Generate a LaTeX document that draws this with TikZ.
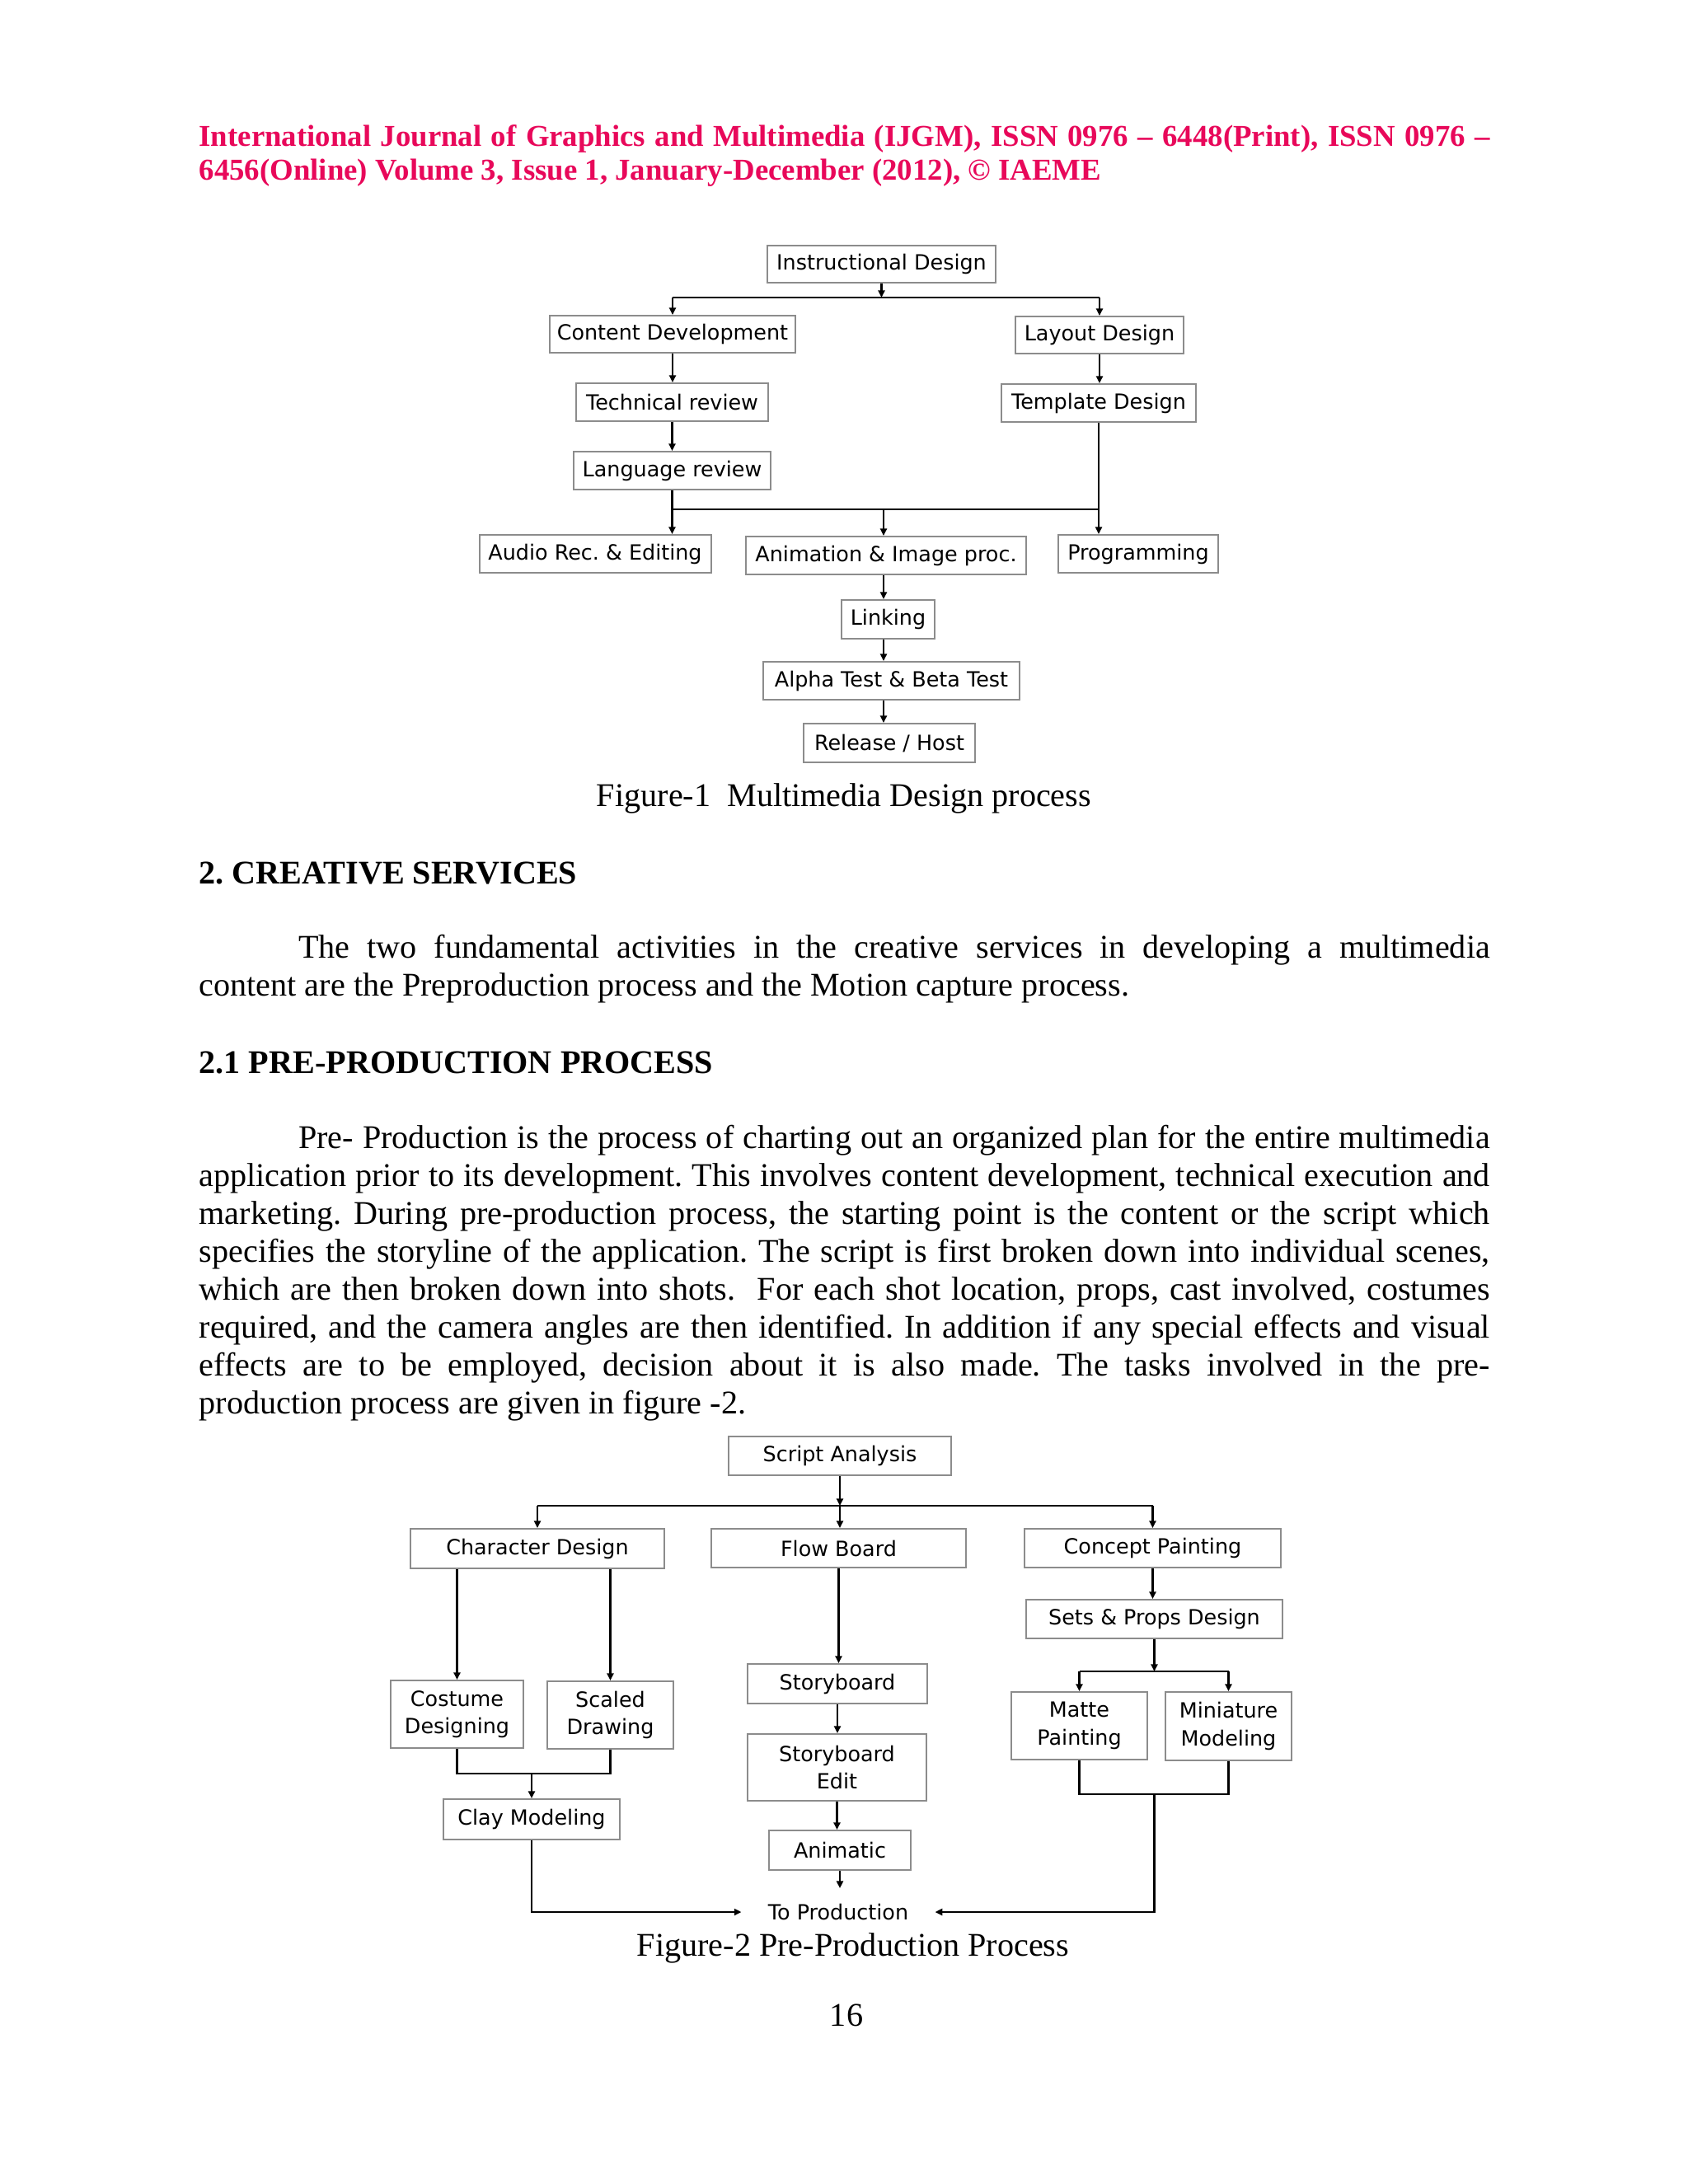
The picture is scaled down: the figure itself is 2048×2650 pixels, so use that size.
\documentclass[tikz,border=0pt]{standalone}
\usepackage{fontspec}
\setmainfont{Liberation Serif}
\newfontfamily\boxfam{DejaVu Sans}
\usetikzlibrary{arrows.meta}

\definecolor{ijgmred}{RGB}{232,8,90}
\definecolor{boxgrey}{RGB}{140,140,140}
\newcommand\boxfont{\boxfam\fontsize{7.6}{10}\selectfont}
\newcommand\bodyline[1]{\hbox to 468pt{#1}}

\tikzset{
  box/.style 2 args={draw=boxgrey, line width=0.6pt, fill=white,
    minimum width=#1*0.29883pt, minimum height=#2*0.29883pt,
    inner sep=0pt, align=center, font=\boxfont},
  arr/.style={-{Triangle[length=2.6pt,width=2.4pt]}},
  link/.style={line width=0.65pt, black},
  body/.style={anchor=base west, inner sep=0pt, font=\fontsize{12}{13.75}\selectfont},
  head/.style={anchor=base west, inner sep=0pt, font=\bfseries\fontsize{12}{13.75}\selectfont},
}

\begin{document}
\frenchspacing
\begin{tikzpicture}[x=0.29883pt, y=-0.29883pt]
  \useasboundingbox[fill=white] (0,0) rectangle (2048,2650);

  % journal header
  \node[head, text=ijgmred, font=\bfseries\fontsize{11}{12.65}\selectfont] (hdra) at (241,177)
    {\bodyline{International Journal of Graphics and Multimedia (IJGM), ISSN 0976 -- 6448(Print), ISSN 0976 --}};
  \node[head, text=ijgmred, font=\bfseries\fontsize{11}{12.65}\selectfont] (hdrb) at (241,218)
    {6456(Online) Volume 3, Issue 1, January-December (2012), © IAEME};

  % figure 1
  \node[box={277}{45}] (instr) at (1069.5,320.5) {Instructional Design};
  \node[box={298}{45}] (content) at (816,405.5) {Content Development};
  \node[box={204}{45}] (layout) at (1334,406.5) {Layout Design};
  \node[box={233}{46}] (techrev) at (815.5,488) {Technical review};
  \node[box={236}{46}] (template) at (1333,489) {Template Design};
  \node[box={239}{46}] (langrev) at (815.5,571) {Language review};
  \node[box={281}{46}] (audio) at (722,672) {Audio Rec. \& Editing};
  \node[box={340}{46}] (anim) at (1075,674) {Animation \& Image proc.};
  \node[box={194}{46}] (prog) at (1381,672) {Programming};
  \node[box={113}{47}] (linking) at (1077.5,751.5) {Linking};
  \node[box={311}{46}] (alpha) at (1081.5,826) {Alpha Test \& Beta Test};
  \node[box={208}{47}] (release) at (1079,901.5) {Release / Host};

  \coordinate (barA) at (0,361);
  \coordinate (barB) at (0,618);
  \coordinate (spine) at (1072,0);

  \draw[link, arr] (instr.south) -- (instr.south |- barA);
  \draw[link] (content.north |- barA) -- (layout.north |- barA);
  \draw[link, arr] (content.north |- barA) -- (content.north);
  \draw[link, arr] (layout.north |- barA) -- (layout.north);
  \draw[link, arr] (content.south) -- (content.south |- techrev.north);
  \draw[link, arr] (techrev.south) -- (techrev.south |- langrev.north);
  \draw[link, arr] (layout.south) -- (layout.south |- template.north);
  \draw[link] (langrev.south) -- (langrev.south |- barB) -- (template.south |- barB) -- (template.south);
  \draw[link, arr] (langrev.south |- barB) -- (langrev.south |- audio.north);
  \draw[link, arr] (spine |- barB) -- (anim.north -| spine);
  \draw[link, arr] (template.south |- barB) -- (template.south |- prog.north);
  \draw[link, arr] (anim.south -| spine) -- (linking.north -| spine);
  \draw[link, arr] (linking.south -| spine) -- (alpha.north -| spine);
  \draw[link, arr] (alpha.south -| spine) -- (release.north -| spine);

  \node[anchor=base, inner sep=0pt, font=\fontsize{12}{13.75}\selectfont] (capA) at (1024,978)
    {Figure-1\ \ Multimedia Design process};

  % section text
  \node[head] (secA) at (241,1072) {2. CREATIVE SERVICES};
  \node[body] (paraA1) at (241,1162)
    {\bodyline{\hskip36pt The two fundamental activities in the creative services in developing a multimedia}};
  \node[body] (paraA2) at (241,1208)
    {content are the Preproduction process and the Motion capture process.};

  \node[head] (secB) at (241,1302) {2.1 PRE-PRODUCTION PROCESS};
  \foreach [count=\n] \ln in {
      {\hskip36pt Pre- Production is the process of charting out an organized plan for the entire multimedia},
      {application prior to its development. This involves content development, technical execution and},
      {marketing. During pre-production process, the starting point is the content or the script which},
      {specifies the storyline of the application. The script is first broken down into individual scenes,},
      {which are then broken down into shots.\ \ For each shot location, props, cast involved, costumes},
      {required, and the camera angles are then identified. In addition if any special effects and visual},
      {effects are to be employed, decision about it is also made. The tasks involved in the pre-}} {
    \node[body] (paraB\n) at (241,1393+46*\n-46) {\bodyline{\ln}};
  }
  \node[body] (paraB8) at (241,1715) {production process are given in figure -2.};

  % figure 2
  \node[box={270}{47}] (script) at (1019,1766.5) {Script Analysis};
  \node[box={308}{48}] (chardes) at (652,1879) {Character Design};
  \node[box={309}{47}] (flow) at (1017.5,1878.5) {Flow Board};
  \node[box={311}{47}] (concept) at (1398.5,1878.5) {Concept Painting};
  \node[box={311}{47}] (sets) at (1400.5,1964.5) {Sets \& Props Design};
  \node[box={161}{82}] (costume) at (554.5,2080) {Costume\\Designing};
  \node[box={153}{82}] (scaled) at (740.5,2081) {Scaled\\Drawing};
  \node[box={214}{49}] (clay) at (645,2207.5) {Clay Modeling};
  \node[box={218}{48}] (story) at (1016,2043) {Storyboard};
  \node[box={217}{81}] (storyedit) at (1015.5,2144.5) {Storyboard\\Edit};
  \node[box={172}{48}] (animatic) at (1019,2245) {Animatic};
  \node[box={165}{82}] (matte) at (1309.5,2094) {Matte\\Painting};
  \node[box={153}{83}] (mini) at (1490.5,2094.5) {Miniature\\Modeling};
  \node[font=\boxfont, inner xsep=9.5pt, inner ysep=5.5pt] (toprod) at (1017,2320) {To Production};

  \coordinate (barC) at (0,1827);
  \coordinate (barD) at (0,2152);
  \coordinate (barE) at (0,2028);
  \coordinate (barF) at (0,2177);

  \draw[link, arr] (script.south) -- (script.south |- barC);
  \draw[link, arr] (script.south |- barC) -- (script.south |- flow.north);
  \draw[link] (chardes.north |- barC) -- (concept.north |- barC);
  \draw[link, arr] (chardes.north |- barC) -- (chardes.north);
  \draw[link, arr] (concept.north |- barC) -- (concept.north);
  \draw[link, arr] (costume.north |- chardes.south) -- (costume.north);
  \draw[link, arr] (scaled.north |- chardes.south) -- (scaled.north);
  \draw[link] (costume.south) -- (costume.south |- barD) -- (scaled.south |- barD) -- (scaled.south);
  \draw[link, arr] (clay.north |- barD) -- (clay.north);
  \draw[link, arr] (flow.south) -- (flow.south |- story.north);
  \draw[link, arr] (story.south) -- (story.south |- storyedit.north);
  \draw[link, arr] (storyedit.south) -- (storyedit.south |- animatic.north);
  \draw[link, arr] (animatic.south) -- (animatic.south |- toprod.north);
  \draw[link, arr] (concept.south) -- (concept.south |- sets.north);
  \draw[link, arr] (sets.south) -- (sets.south |- barE);
  \draw[link] (matte.north |- barE) -- (mini.north |- barE);
  \draw[link, arr] (matte.north |- barE) -- (matte.north);
  \draw[link, arr] (mini.north |- barE) -- (mini.north);
  \draw[link] (matte.south) -- (matte.south |- barF) -- (mini.south |- barF) -- (mini.south);
  \draw[link, arr] (clay.south) -- (clay.south |- toprod.west) -- (toprod.west);
  \draw[link, arr] (sets.south |- barF) -- (sets.south |- toprod.east) -- (toprod.east);

  \node[anchor=base, inner sep=0pt, font=\fontsize{12}{13.75}\selectfont] (capB) at (1035,2373)
    {Figure-2 Pre-Production Process};
  \node[anchor=base, inner sep=0pt, font=\fontsize{12}{13.75}\selectfont] (pagenum) at (1027,2458) {16};
\end{tikzpicture}
\end{document}
